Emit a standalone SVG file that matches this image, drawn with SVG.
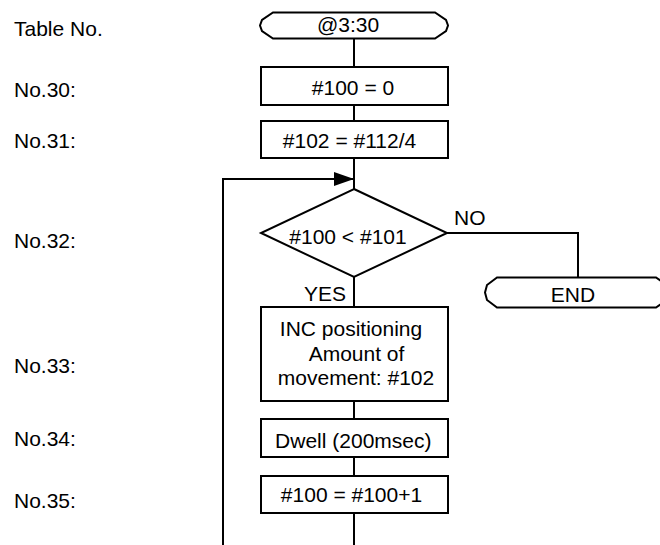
<svg xmlns="http://www.w3.org/2000/svg" width="660" height="545" viewBox="0 0 660 545">
<defs>
<style>
text{font-family:"Liberation Sans",Arial,sans-serif;font-size:21px;fill:#000}
.c{text-anchor:middle}
.s{fill:#fff;stroke:#000;stroke-width:2}
.l{fill:none;stroke:#000;stroke-width:2}
</style>
<marker id="ah" markerWidth="20" markerHeight="14" refX="20" refY="7" orient="auto" markerUnits="userSpaceOnUse">
<path d="M0,0 L20,7 L0,14 Z" fill="#000"/>
</marker>
</defs>
<rect width="660" height="545" fill="#fff"/>
<g id="labels">
<text x="14" y="36">Table No.</text>
<text x="14" y="97">No.30:</text>
<text x="14" y="148">No.31:</text>
<text x="14" y="248">No.32:</text>
<text x="14" y="373">No.33:</text>
<text x="14" y="446">No.34:</text>
<text x="14" y="508">No.35:</text>
</g>
<g id="connectors">
<line class="l" x1="354" y1="38.5" x2="354" y2="67"/>
<line class="l" x1="354" y1="105" x2="354" y2="121"/>
<line class="l" x1="354" y1="158" x2="354" y2="189"/>
<line class="l" x1="354" y1="277" x2="354" y2="307"/>
<line class="l" x1="354" y1="401" x2="354" y2="419"/>
<line class="l" x1="354" y1="457" x2="354" y2="476"/>
<line class="l" x1="354" y1="513" x2="354" y2="545"/>
<polyline class="l" points="223,545 223,179 354,179" marker-end="url(#ah)"/>
<polyline class="l" points="447,233 578,233 578,277.5"/>
<text x="454" y="225">NO</text>
<text x="346" y="301" text-anchor="end">YES</text>
</g>
<g id="start">
<path class="s" d="M273,12.5 H435 L446,20 L448,25.5 L446,31 L435,38.5 H273 L262,31 L260,25.5 L262,20 Z"/>
<text class="c" x="348" y="32">@3:30</text>
</g>
<g id="n30">
<rect class="s" x="261" y="67" width="187" height="38"/>
<text class="c" x="353" y="95">#100 = 0</text>
</g>
<g id="n31">
<rect class="s" x="261" y="121" width="187" height="37"/>
<text class="c" x="349.5" y="148">#102 = #112/4</text>
</g>
<g id="n32">
<polygon class="s" points="354,189 447,233 354,277 261,233"/>
<text class="c" x="348" y="244">#100 &lt; #101</text>
</g>
<g id="end">
<path class="s" d="M497,277.5 H656 L667,285 L669,292.5 L667,300 L656,307.5 H497 L487,300 L485,292.5 L487,285 Z"/>
<text class="c" x="573" y="302">END</text>
</g>
<g id="n33">
<rect class="s" x="261" y="307" width="187" height="94"/>
<text class="c" x="351" y="336">INC positioning</text>
<text class="c" x="356.5" y="361">Amount of</text>
<text class="c" x="356" y="385">movement: #102</text>
</g>
<g id="n34">
<rect class="s" x="261" y="419" width="187" height="38"/>
<text class="c" x="353.3" y="448">Dwell (200msec)</text>
</g>
<g id="n35">
<rect class="s" x="261" y="476" width="187" height="37"/>
<text class="c" x="351.5" y="502">#100 = #100+1</text>
</g>
</svg>
